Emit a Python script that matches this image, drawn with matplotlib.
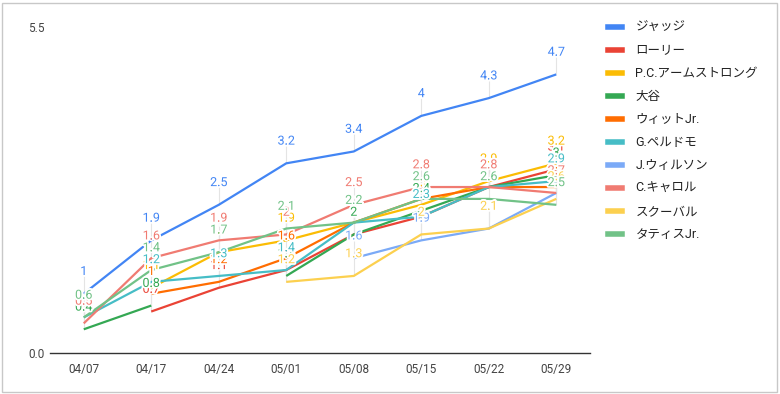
import numpy as np
import matplotlib
matplotlib.use("Agg")
import matplotlib.pyplot as plt
import matplotlib.patheffects as pe
from matplotlib.lines import Line2D
from matplotlib.patches import Rectangle

plt.rcParams['font.family'] = ['Roboto', 'Noto Sans CJK JP', 'DejaVu Sans']

nan = np.nan
dates = ['04/07', '04/17', '04/24', '05/01', '05/08', '05/15', '05/22', '05/29']
players = ['ジャッジ', 'ローリー', 'P.C.アームストロング', '大谷', 'ウィットJr.',
           'G.ペルドモ', 'J.ウィルソン', 'C.キャロル', 'スクーバル', 'タティスJr.']
colors = ['#4285F4', '#EA4335', '#FBBC04', '#34A853', '#FF6D01',
          '#46BDC6', '#7BAAF7', '#F07B72', '#FCD04F', '#71C287']

judge = [1.0, 1.9, 2.5, 3.2, 3.4, 4.0, 4.3, 4.7]
raleigh = [nan, 0.7, 1.1, 1.4, 2.0, 2.3, 2.8, 3.1]
armstrong = [nan, 1.1, 1.7, 1.9, 2.2, 2.5, 2.9, 3.2]
ohtani = [0.4, 0.8, nan, 1.3, 2.0, 2.4, 2.8, 3.0]
witt = [nan, 1.0, 1.2, 1.6, 2.2, 2.6, 2.8, 2.8]
perdomo = [0.6, 1.2, 1.3, 1.4, 2.2, 2.3, 2.8, 2.9]
wilson = [nan, nan, nan, nan, 1.6, 1.9, 2.1, 2.7]
carroll = [0.5, 1.6, 1.9, 2.0, 2.5, 2.8, 2.8, 2.7]
skubal = [nan, nan, nan, 1.2, 1.3, 2.0, 2.1, 2.6]
tatis = [0.6, 1.4, 1.7, 2.1, 2.2, 2.6, 2.6, 2.5]

series = [judge, raleigh, armstrong, ohtani, witt,
          perdomo, wilson, carroll, skubal, tatis]

fig = plt.figure(figsize=(7.8, 3.94), dpi=100)
ax = fig.add_axes([50 / 780, 41 / 394, 540 / 780, 326 / 394])
ax.set_xlim(-0.5, len(dates) - 0.5)
ax.set_ylim(0, 5.5)

# label offset above the point (in points) and the same in data units for the stems
label_off = 16
off_data = (label_off / 72 * fig.dpi) / ax.bbox.height * 5.5

x = np.arange(len(dates))
for vals, c in zip(series, colors):
    v = np.array(vals, dtype=float)
    ax.plot(x, v, color=c, lw=1.6, zorder=3, solid_capstyle='butt')
    for i, val in enumerate(v):
        if np.isnan(val):
            continue
        ax.vlines(i, val, val + off_data - 0.08, color='#e4e4e4', lw=0.8, zorder=1)
        ax.annotate(f"{val:g}", (i, val), xytext=(0, label_off),
                    textcoords='offset points', ha='center', va='center',
                    color=c, fontsize=9, zorder=5,
                    path_effects=[pe.withStroke(linewidth=2.5, foreground='white')])

ax.set_xticks(x)
ax.set_xticklabels(dates)
ax.set_yticks([0, 5.5])
ax.set_yticklabels(['0.0', '5.5'])
ax.tick_params(length=0, labelsize=8.5, colors='#444444')
ax.tick_params(axis='x', pad=7)
ax.tick_params(axis='y', pad=4)
for s in ['top', 'right', 'left']:
    ax.spines[s].set_visible(False)
ax.spines['bottom'].set_color('#333333')
ax.spines['bottom'].set_linewidth(1)

handles = [Line2D([], [], color=c, lw=4) for c in colors]
fig.legend(handles, players, loc='upper left',
           bbox_to_anchor=(608 / 780, 1 - 21 / 394), frameon=False,
           fontsize=9, handlelength=1.1, handletextpad=1.1,
           labelspacing=0.8, borderpad=0, borderaxespad=0,
           labelcolor='#222222')

fig.patches.append(Rectangle((2 / 780, 2 / 394), 775 / 780, 389 / 394,
                             transform=fig.transFigure, fill=False,
                             edgecolor='#c8c8c8', lw=1))

fig.savefig('out.png', dpi=100)
